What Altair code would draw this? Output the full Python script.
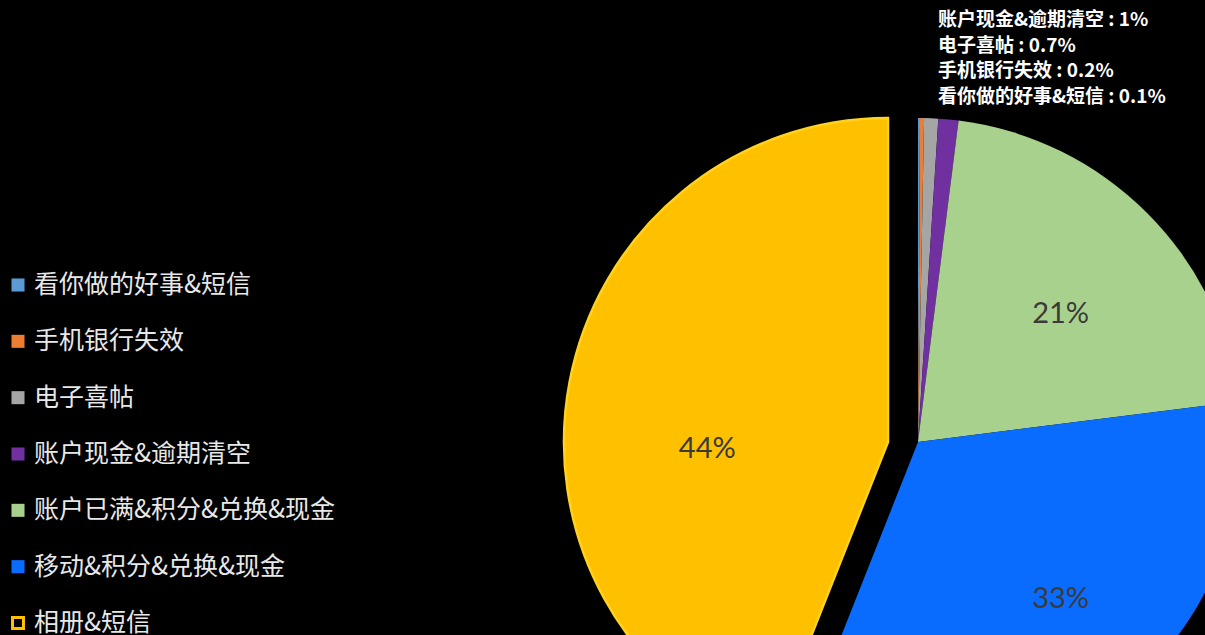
import altair as alt
import pandas as pd

categories = ["看你做的好事&短信", "手机银行失效", "电子喜帖", "账户现金&逾期清空",
              "账户已满&积分&兑换&现金", "移动&积分&兑换&现金", "相册&短信"]
values = [0.1, 0.2, 0.7, 1.0, 21.0, 33.0, 44.0]
colors = ["#5B9BD5", "#ED7D31", "#A5A5A5", "#7030A0", "#A9D18E", "#0A6CFF", "#FFC000"]
pct_labels = ["0.1%", "0.2%", "0.7%", "1%", "21%", "33%", "44%"]
annot_order = ["账户现金&逾期清空", "电子喜帖", "手机银行失效", "看你做的好事&短信"]

starts, ends, mids = [], [], []
acc = 0.0
for v in values:
    starts.append(acc)
    ends.append(acc + v)
    mids.append(acc + v / 2)
    acc += v

df = pd.DataFrame({"cat": categories, "value": values, "start": starts, "end": ends,
                   "mid": mids, "label": pct_labels})

main_df = df[df["cat"] != "相册&短信"]
big_df = df[df["cat"] == "相册&短信"]
green_df = df[df["cat"] == "账户已满&积分&兑换&现金"]
blue_df = df[df["cat"] == "移动&积分&兑换&现金"]

theta_scale = alt.Scale(domain=[0, 100])
color_scale = alt.Scale(domain=categories, range=colors)

R = 324
CX, CY = 918, 442
EXPLODE = 30

main_arcs = alt.Chart(main_df).mark_arc(outerRadius=R, clip=True).encode(
    theta=alt.Theta("start:Q", scale=theta_scale),
    theta2="end:Q",
    color=alt.Color("cat:N", scale=color_scale, legend=None),
    x=alt.value(CX), y=alt.value(CY),
)

big_arc = alt.Chart(big_df).mark_arc(outerRadius=R, clip=True, stroke="#FFD21F",
                                     strokeWidth=2.5).encode(
    theta=alt.Theta("start:Q", scale=theta_scale),
    theta2="end:Q",
    color=alt.Color("cat:N", scale=color_scale, legend=None),
    x=alt.value(CX - EXPLODE), y=alt.value(CY),
)


def pct_label(data, cx, radius, dx, dy):
    return alt.Chart(data).mark_text(radius=radius, font="Lato", fontSize=29,
                                     color="#3A3A3A", dx=dx, dy=dy).encode(
        theta=alt.Theta("mid:Q", scale=theta_scale),
        text="label:N",
        x=alt.value(cx), y=alt.value(CY),
    )


green_label = pct_label(green_df, CX, 196, 4, 11)
blue_label = pct_label(blue_df, CX, 205, 17, -5)
big_label = pct_label(big_df, CX - EXPLODE, 184, 0, 41)

# annotation of tiny slices (one text per line)
val_map = dict(zip(categories, pct_labels))
annot_df = pd.DataFrame({"t": [f"{c} : {val_map[c]}" for c in annot_order]})
annot = alt.Chart(annot_df).mark_text(
    align="left", baseline="middle", font="Noto Sans CJK SC", fontWeight="bold",
    fontSize=19, color="#FFFFFF"
).encode(
    text="t:N", x=alt.value(938),
    y=alt.Y("t:N", scale=alt.Scale(type="point", domain=list(annot_df["t"]), range=[20, 97],
                                   padding=0), axis=None),
)

# custom legend
ly = alt.Y("cat:N", scale=alt.Scale(type="point", domain=categories, range=[285, 623], padding=0),
           axis=None)
leg_filled = alt.Chart(main_df).mark_square(size=170, opacity=1, filled=True).encode(
    x=alt.value(18), y=ly,
    color=alt.Color("cat:N", scale=color_scale, legend=None),
)
leg_hollow = alt.Chart(big_df).mark_square(size=120, opacity=1, filled=False, strokeWidth=3).encode(
    x=alt.value(18), y=ly,
    color=alt.Color("cat:N", scale=color_scale, legend=None),
)
leg_text = alt.Chart(df).mark_text(align="left", baseline="middle", font="Noto Sans CJK SC",
                                   fontSize=25, color="#E8E8E8").encode(
    x=alt.value(34), y=ly, text="cat:N",
)

chart = alt.layer(
    main_arcs, big_arc, green_label, blue_label, big_label, annot,
    leg_filled, leg_hollow, leg_text
).resolve_scale(y="independent").properties(
    width=1205, height=635, background="#000000", padding=0,
    autosize=alt.AutoSizeParams(type="none"),
).configure_view(stroke=None)

chart.save("out.html", embed_options={"renderer": "svg", "actions": False})
